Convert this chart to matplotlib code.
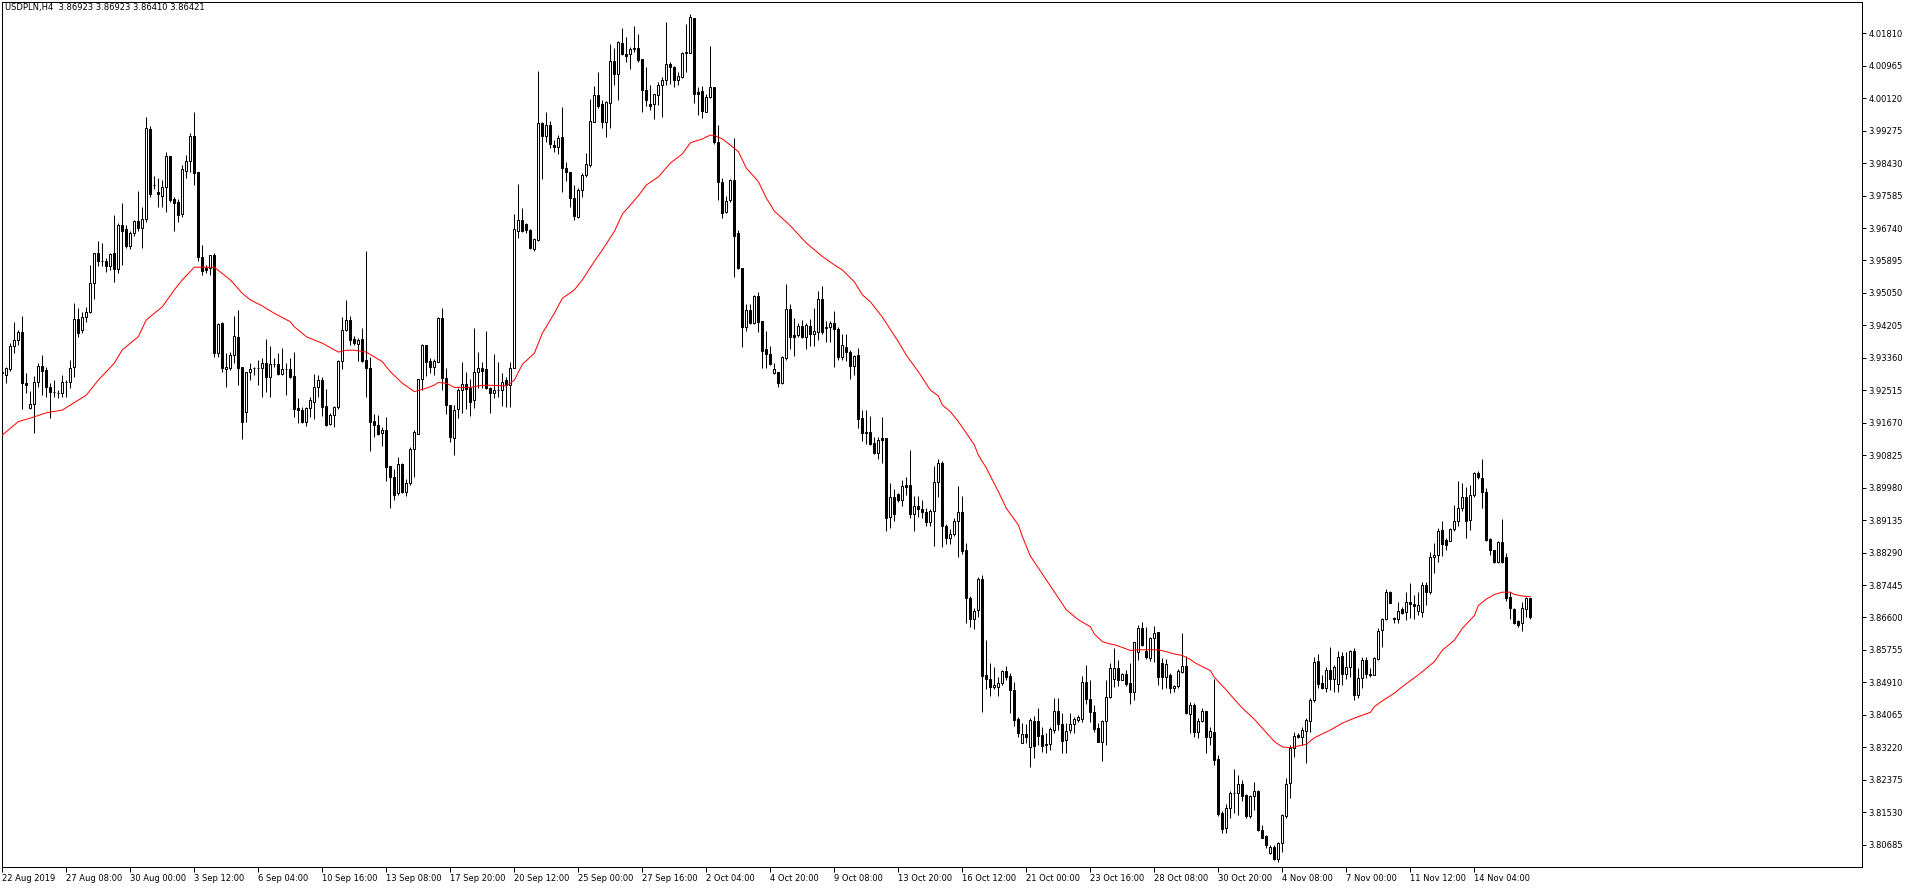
import matplotlib
matplotlib.use("Agg")
import matplotlib.pyplot as plt
import numpy as np

# ---------------- data (USDPLN, H4) ----------------
opens = [
 3.9296,3.9291,3.9308,3.9368,3.9383,3.9403,3.9270,3.9205,3.9215,3.9274,
 3.9315,3.9305,3.9261,3.9246,3.9244,3.9244,3.9273,3.9274,3.9311,3.9436,
 3.9409,3.9443,3.9456,3.9530,3.9608,3.9589,3.9587,3.9576,3.9608,3.9567,
 3.9681,3.9671,3.9628,3.9660,3.9693,3.9673,3.9697,3.9932,3.9785,3.9768,
 3.9758,3.9782,3.9862,3.9750,3.9742,3.9710,3.9823,3.9849,3.9914,3.9821,
 3.9598,3.9571,3.9569,3.9604,3.9348,3.9428,3.9306,3.9309,3.9344,3.9390,
 3.9311,3.9196,3.9298,3.9309,3.9310,3.9309,3.9322,3.9287,3.9320,3.9320,
 3.9294,3.9306,3.9306,3.9289,3.9205,3.9199,3.9170,3.9205,3.9222,3.9259,
 3.9278,3.9211,3.9164,3.9187,3.9207,3.9328,3.9409,3.9435,3.9384,3.9372,
 3.9384,3.9330,3.9309,3.9172,3.9161,3.9141,3.9148,3.9055,3.9027,3.8983,
 3.9060,3.8988,3.9011,3.9098,3.9139,3.9280,3.9370,3.9328,3.9311,3.9326,
 3.9441,3.9283,3.9213,3.9127,3.9202,3.9252,3.9268,3.9257,3.9226,3.9300,
 3.9309,3.9306,3.9257,3.9245,3.9252,3.9252,3.9278,3.9265,3.9309,3.9666,
 3.9695,3.9685,3.9669,3.9619,3.9643,3.9947,3.9914,3.9942,3.9890,3.9886,
 3.9910,3.9830,3.9819,3.9753,3.9704,3.9773,3.9812,3.9838,3.9951,4.0020,
 3.9996,3.9949,3.9999,4.0109,4.0074,4.0155,4.0127,4.0126,4.0140,4.0144,
 4.0114,4.0033,3.9996,3.9996,4.0020,4.0046,4.0059,4.0100,4.0094,4.0059,
 4.0068,4.0129,4.0131,4.0222,4.0027,4.0032,3.9977,4.0014,4.0040,3.9897,
 3.9793,3.9715,3.9747,3.9799,3.9660,3.9569,3.9417,3.9461,3.9426,3.9497,
 3.9432,3.9359,3.9346,3.9296,3.9298,3.9270,3.9335,3.9462,3.9396,3.9396,
 3.9419,3.9389,3.9419,3.9397,3.9404,3.9488,3.9415,3.9416,3.9428,3.9410,
 3.9337,3.9363,3.9352,3.9316,3.9343,3.9179,3.9143,3.9142,3.9114,3.9089,
 3.9127,3.9127,3.8921,3.8973,3.8981,3.8966,3.9005,3.9005,3.8929,3.8950,
 3.8943,3.8935,3.8908,3.8937,3.9013,3.9063,3.8899,3.8868,3.8877,3.8911,
 3.8934,3.8836,3.8710,3.8655,3.8680,3.8759,3.8510,3.8499,3.8478,3.8480,
 3.8489,3.8521,3.8508,3.8471,3.8395,3.8334,3.8357,3.8324,3.8391,3.8391,
 3.8354,3.8331,3.8330,3.8367,3.8417,3.8383,3.8340,3.8366,3.8383,3.8393,
 3.8395,3.8491,3.8448,3.8415,3.8372,3.8337,3.8391,3.8452,3.8499,3.8528,
 3.8497,3.8513,3.8490,3.8467,3.8569,3.8632,3.8573,3.8554,3.8606,3.8623,
 3.8541,3.8506,3.8510,3.8476,3.8482,3.8519,3.8534,3.8409,3.8432,3.8363,
 3.8391,3.8417,3.8350,3.8363,3.8292,3.8150,3.8111,3.8163,3.8202,3.8202,
 3.8226,3.8198,3.8142,3.8194,3.8208,3.8107,3.8090,3.8046,3.8063,3.8031,
 3.8074,3.8142,3.8228,3.8321,3.8354,3.8350,3.8365,3.8391,3.8444,3.8547,
 3.8489,3.8476,3.8523,3.8500,3.8487,3.8560,3.8512,3.8530,3.8573,3.8458,
 3.8502,3.8549,3.8513,3.8510,3.8552,3.8628,3.8655,3.8727,3.8658,3.8655,
 3.8681,3.8675,3.8701,3.8694,3.8678,3.8675,3.8745,3.8726,3.8817,3.8823,
 3.8888,3.8862,3.8860,3.8890,3.8910,3.8944,3.8975,3.8914,3.8979,3.9035,
 3.9022,3.8988,3.8864,3.8836,3.8804,3.8856,3.8817,3.8714,3.8682,3.8651,
 3.8645,3.8682,3.8712]

highs = [
 3.9305,3.9313,3.9375,3.9430,3.9409,3.9445,3.9296,3.9250,3.9289,3.9322,
 3.9344,3.9313,3.9270,3.9278,3.9252,3.9292,3.9278,3.9331,3.9480,3.9467,
 3.9456,3.9469,3.9578,3.9608,3.9639,3.9634,3.9595,3.9610,3.9708,3.9686,
 3.9738,3.9682,3.9665,3.9695,3.9771,3.9730,3.9964,3.9940,3.9810,3.9803,
 3.9799,3.9873,3.9862,3.9754,3.9749,3.9838,3.9864,3.9922,3.9975,3.9821,
 3.9630,3.9578,3.9604,3.9610,3.9428,3.9430,3.9348,3.9352,3.9445,3.9461,
 3.9313,3.9300,3.9322,3.9313,3.9330,3.9335,3.9384,3.9367,3.9335,3.9348,
 3.9361,3.9322,3.9335,3.9352,3.9231,3.9209,3.9209,3.9233,3.9294,3.9291,
 3.9285,3.9254,3.9192,3.9211,3.9330,3.9443,3.9487,3.9445,3.9393,3.9387,
 3.9413,3.9614,3.9337,3.9190,3.9187,3.9157,3.9181,3.9055,3.9046,3.9079,
 3.9061,3.9020,3.9103,3.9148,3.9280,3.9372,3.9370,3.9335,3.9332,3.9443,
 3.9465,3.9309,3.9213,3.9213,3.9257,3.9324,3.9298,3.9280,3.9415,3.9352,
 3.9326,3.9407,3.9259,3.9346,3.9326,3.9296,3.9285,3.9326,3.9711,3.9789,
 3.9727,3.9686,3.9672,3.9647,4.0083,3.9951,3.9976,3.9953,3.9903,3.9916,
 3.9990,3.9847,3.9821,3.9786,3.9777,3.9817,3.9869,4.0010,4.0045,4.0081,
 4.0007,4.0005,4.0152,4.0142,4.0161,4.0194,4.0171,4.0146,4.0201,4.0179,
 4.0114,4.0094,4.0046,4.0022,4.0055,4.0066,4.0210,4.0105,4.0097,4.0081,
 4.0133,4.0205,4.0231,4.0222,4.0042,4.0044,4.0022,4.0148,4.0040,3.9941,
 3.9803,3.9758,3.9802,3.9908,3.9669,3.9569,3.9476,3.9476,3.9500,3.9508,
 3.9432,3.9406,3.9367,3.9322,3.9300,3.9341,3.9528,3.9476,3.9439,3.9428,
 3.9435,3.9426,3.9436,3.9465,3.9509,3.9523,3.9433,3.9432,3.9458,3.9417,
 3.9398,3.9398,3.9357,3.9344,3.9361,3.9200,3.9200,3.9185,3.9129,3.9131,
 3.9183,3.9127,3.9009,3.8995,3.8985,3.9018,3.9027,3.9096,3.8976,3.8976,
 3.8966,3.8946,3.8942,3.9054,3.9073,3.9068,3.8904,3.8890,3.8918,3.9002,
 3.8976,3.8853,3.8716,3.8684,3.8765,3.8771,3.8602,3.8541,3.8532,3.8504,
 3.8524,3.8534,3.8515,3.8493,3.8402,3.8385,3.8383,3.8398,3.8404,3.8424,
 3.8376,3.8359,3.8376,3.8450,3.8450,3.8412,3.8386,3.8412,3.8402,3.8406,
 3.8508,3.8536,3.8497,3.8431,3.8385,3.8393,3.8497,3.8541,3.8580,3.8550,
 3.8515,3.8523,3.8541,3.8597,3.8641,3.8648,3.8636,3.8610,3.8638,3.8623,
 3.8554,3.8551,3.8516,3.8484,3.8525,3.8619,3.8560,3.8441,3.8437,3.8398,
 3.8424,3.8417,3.8376,3.8500,3.8302,3.8155,3.8174,3.8208,3.8266,3.8250,
 3.8237,3.8200,3.8198,3.8233,3.8211,3.8120,3.8094,3.8068,3.8068,3.8076,
 3.8148,3.8243,3.8328,3.8363,3.8358,3.8376,3.8398,3.8450,3.8558,3.8564,
 3.8510,3.8532,3.8584,3.8536,3.8573,3.8571,3.8571,3.8575,3.8580,3.8528,
 3.8558,3.8558,3.8528,3.8558,3.8632,3.8658,3.8734,3.8729,3.8660,3.8701,
 3.8688,3.8727,3.8749,3.8719,3.8727,3.8752,3.8753,3.8831,3.8853,3.8894,
 3.8911,3.8866,3.8894,3.8953,3.9015,3.9009,3.9001,3.9005,3.9040,3.9041,
 3.9073,3.8996,3.8866,3.8836,3.8858,3.8916,3.8827,3.8727,3.8684,3.8654,
 3.8701,3.8714,3.8712]

lows = [
 3.9292,3.9270,3.9303,3.9348,3.9370,3.9202,3.9244,3.9204,3.9140,3.9259,
 3.9239,3.9235,3.9179,3.9235,3.9231,3.9235,3.9233,3.9257,3.9285,3.9390,
 3.9400,3.9430,3.9452,3.9488,3.9574,3.9574,3.9560,3.9565,3.9534,3.9556,
 3.9578,3.9621,3.9620,3.9652,3.9665,3.9623,3.9691,3.9754,3.9775,3.9728,
 3.9730,3.9717,3.9743,3.9665,3.9691,3.9704,3.9803,3.9821,3.9786,3.9587,
 3.9552,3.9556,3.9552,3.9338,3.9339,3.9300,3.9259,3.9305,3.9322,3.9266,
 3.9124,3.9170,3.9278,3.9292,3.9265,3.9233,3.9248,3.9235,3.9313,3.9291,
 3.9291,3.9240,3.9283,3.9181,3.9167,3.9166,3.9159,3.9181,3.9176,3.9235,
 3.9185,3.9159,3.9161,3.9157,3.9202,3.9306,3.9407,3.9370,3.9370,3.9329,
 3.9326,3.9235,3.9094,3.9131,3.9135,3.9107,3.9016,3.8944,3.8966,3.8979,
 3.8983,3.8976,3.9005,3.9025,3.9139,3.9252,3.9289,3.9296,3.9291,3.9324,
 3.9252,3.9190,3.9118,3.9083,3.9179,3.9192,3.9202,3.9185,3.9205,3.9257,
 3.9257,3.9254,3.9192,3.9231,3.9233,3.9211,3.9209,3.9209,3.9309,3.9647,
 3.9663,3.9660,3.9620,3.9613,3.9639,3.9801,3.9899,3.9882,3.9871,3.9866,
 3.9769,3.9797,3.9730,3.9695,3.9701,3.9756,3.9808,3.9834,3.9949,3.9986,
 3.9935,3.9912,3.9934,4.0046,4.0007,4.0125,4.0107,4.0088,4.0133,4.0107,
 3.9977,3.9993,3.9981,3.9958,3.9994,3.9964,4.0046,4.0048,4.0040,4.0046,
 4.0064,4.0081,4.0129,3.9999,3.9967,3.9961,3.9975,4.0012,3.9892,3.9747,
 3.9701,3.9712,3.9743,3.9547,3.9567,3.9365,3.9406,3.9423,3.9423,3.9404,
 3.9309,3.9309,3.9317,3.9294,3.9259,3.9268,3.9330,3.9359,3.9342,3.9391,
 3.9387,3.9359,3.9367,3.9368,3.9383,3.9398,3.9378,3.9378,3.9313,3.9330,
 3.9330,3.9329,3.9281,3.9291,3.9153,3.9120,3.9112,3.9109,3.9085,3.9073,
 3.9063,3.8884,3.8894,3.8912,3.8962,3.8951,3.8979,3.8918,3.8884,3.8921,
 3.8918,3.8899,3.8897,3.8846,3.8975,3.8844,3.8851,3.8851,3.8873,3.8818,
 3.8825,3.8645,3.8636,3.8629,3.8662,3.8415,3.8473,3.8456,3.8473,3.8456,
 3.8484,3.8497,3.8412,3.8378,3.8350,3.8333,3.8333,3.8270,3.8293,3.8328,
 3.8311,3.8308,3.8315,3.8360,3.8366,3.8306,3.8306,3.8359,3.8360,3.8388,
 3.8389,3.8435,3.8389,3.8363,3.8336,3.8287,3.8328,3.8450,3.8480,3.8482,
 3.8496,3.8482,3.8435,3.8445,3.8550,3.8586,3.8551,3.8548,3.8543,3.8484,
 3.8473,3.8476,3.8464,3.8467,3.8476,3.8515,3.8409,3.8360,3.8350,3.8347,
 3.8389,3.8306,3.8328,3.8276,3.8142,3.8098,3.8098,3.8139,3.8150,3.8146,
 3.8181,3.8139,3.8137,3.8159,3.8104,3.8085,3.8061,3.8043,3.8029,3.8024,
 3.8049,3.8139,3.8189,3.8298,3.8345,3.8328,3.8280,3.8363,3.8441,3.8476,
 3.8474,3.8465,3.8471,3.8465,3.8465,3.8484,3.8500,3.8506,3.8445,3.8451,
 3.8476,3.8502,3.8506,3.8509,3.8549,3.8584,3.8654,3.8697,3.8645,3.8645,
 3.8668,3.8654,3.8658,3.8656,3.8667,3.8662,3.8693,3.8720,3.8775,3.8804,
 3.8821,3.8836,3.8858,3.8884,3.8899,3.8936,3.8866,3.8888,3.8975,3.9021,
 3.8946,3.8859,3.8823,3.8801,3.8801,3.8801,3.8703,3.8656,3.8642,3.8636,
 3.8625,3.8660,3.8656]

closes = [
 3.9299,3.9309,3.9368,3.9383,3.9403,3.9270,3.9266,3.9215,3.9272,3.9315,
 3.9303,3.9259,3.9246,3.9247,3.9245,3.9272,3.9274,3.9309,3.9436,3.9400,
 3.9443,3.9455,3.9530,3.9608,3.9587,3.9587,3.9574,3.9606,3.9567,3.9681,
 3.9667,3.9628,3.9660,3.9693,3.9675,3.9697,3.9934,3.9763,3.9786,3.9762,
 3.9782,3.9862,3.9747,3.9740,3.9708,3.9828,3.9849,3.9914,3.9817,3.9598,
 3.9563,3.9565,3.9604,3.9348,3.9424,3.9309,3.9313,3.9344,3.9393,3.9309,
 3.9170,3.9298,3.9306,3.9310,3.9309,3.9322,3.9287,3.9320,3.9321,3.9294,
 3.9306,3.9307,3.9287,3.9204,3.9199,3.9170,3.9205,3.9226,3.9259,3.9278,
 3.9209,3.9161,3.9187,3.9207,3.9328,3.9409,3.9435,3.9383,3.9374,3.9383,
 3.9329,3.9309,3.9170,3.9160,3.9138,3.9148,3.9053,3.9027,3.8979,3.9060,
 3.8988,3.9011,3.9098,3.9142,3.9280,3.9370,3.9326,3.9311,3.9328,3.9441,
 3.9283,3.9213,3.9131,3.9200,3.9252,3.9268,3.9254,3.9220,3.9300,3.9309,
 3.9303,3.9257,3.9245,3.9252,3.9253,3.9274,3.9265,3.9309,3.9671,3.9695,
 3.9666,3.9669,3.9621,3.9645,3.9947,3.9914,3.9942,3.9892,3.9886,3.9908,
 3.9830,3.9819,3.9753,3.9706,3.9773,3.9812,3.9840,3.9953,4.0020,3.9993,
 3.9949,4.0003,4.0109,4.0074,4.0158,4.0126,4.0123,4.0139,4.0144,4.0112,
 4.0033,4.0007,3.9993,4.0022,4.0046,4.0059,4.0100,4.0092,4.0059,4.0070,
 4.0129,4.0133,4.0224,4.0022,4.0024,3.9979,4.0014,4.0040,3.9897,3.9793,
 3.9712,3.9745,3.9799,3.9654,3.9569,3.9417,3.9461,3.9426,3.9497,3.9430,
 3.9355,3.9345,3.9319,3.9306,3.9270,3.9337,3.9462,3.9389,3.9391,3.9419,
 3.9389,3.9422,3.9397,3.9406,3.9488,3.9404,3.9416,3.9428,3.9410,3.9337,
 3.9370,3.9350,3.9316,3.9341,3.9177,3.9141,3.9141,3.9111,3.9087,3.9121,
 3.9123,3.8920,3.8973,3.8929,3.8966,3.9002,3.9001,3.8929,3.8950,3.8942,
 3.8934,3.8908,3.8938,3.9013,3.9063,3.8899,3.8868,3.8877,3.8911,3.8934,
 3.8834,3.8710,3.8655,3.8678,3.8759,3.8508,3.8499,3.8478,3.8484,3.8489,
 3.8521,3.8506,3.8470,3.8392,3.8359,3.8357,3.8348,3.8393,3.8326,3.8352,
 3.8326,3.8327,3.8370,3.8417,3.8383,3.8339,3.8365,3.8383,3.8396,3.8400,
 3.8493,3.8447,3.8415,3.8369,3.8337,3.8391,3.8452,3.8528,3.8528,3.8497,
 3.8513,3.8487,3.8467,3.8595,3.8632,3.8589,3.8556,3.8606,3.8619,3.8506,
 3.8506,3.8539,3.8476,3.8482,3.8521,3.8534,3.8411,3.8432,3.8363,3.8391,
 3.8417,3.8350,3.8365,3.8289,3.8148,3.8109,3.8163,3.8202,3.8203,3.8226,
 3.8196,3.8142,3.8194,3.8208,3.8107,3.8087,3.8068,3.8063,3.8031,3.8074,
 3.8146,3.8226,3.8321,3.8352,3.8350,3.8367,3.8393,3.8444,3.8543,3.8487,
 3.8476,3.8523,3.8500,3.8532,3.8558,3.8512,3.8532,3.8573,3.8458,3.8502,
 3.8549,3.8512,3.8509,3.8554,3.8625,3.8655,3.8727,3.8699,3.8655,3.8678,
 3.8673,3.8701,3.8695,3.8691,3.8693,3.8745,3.8727,3.8818,3.8823,3.8885,
 3.8851,3.8849,3.8890,3.8910,3.8946,3.8973,3.8910,3.8979,3.9035,3.9025,
 3.8986,3.8862,3.8836,3.8804,3.8856,3.8804,3.8710,3.8684,3.8645,3.8641,
 3.8684,3.8712,3.8660]

# moving average (red line), read at selected bars
ma_bars = [0,4,7,11,15,17,21,24,28,30,34,36,40,43,45,48,53,57,60,62,65,68,72,73,76,80,84,86,88,91,
           95,97,100,103,106,108,109,111,113,117,119,121,126,127,128,130,133,135,138,140,143,145,148,150,
           153,155,157,159,161,164,167,170,172,175,177,178,180,182,184,186,189,191,193,197,201,205,208,
           210,213,215,217,220,222,224,226,229,232,234,235,237,239,241,243,244,246,249,251,254,255,257,
           266,269,272,273,275,277,278,280,282,284,289,291,293,295,297,298,300,302,303,306,308,310,313,
           316,318,320,322,323,326,328,332,335,338,339,342,343,345,348,350,353,355,358,360,363,365,368,
           369,371,373,375,377,378,380,382]
ma_vals = [3.9135,3.9170,3.9179,3.9193,3.9200,3.9213,3.9239,3.9278,3.9322,3.9357,3.9391,3.9435,3.9469,
           3.9513,3.9539,3.9572,3.9572,3.9539,3.9504,3.9487,3.9471,3.9452,3.9430,3.9417,3.9391,3.9374,
           3.9351,3.9356,3.9356,3.9351,3.9326,3.9300,3.9270,3.9248,3.9257,3.9265,3.9272,3.9270,3.9259,
           3.9259,3.9263,3.9265,3.9263,3.9270,3.9278,3.9319,3.9348,3.9400,3.9452,3.9491,3.9513,3.9539,
           3.9587,3.9617,3.9665,3.9710,3.9734,3.9758,3.9786,3.9807,3.9843,3.9867,3.9896,3.9906,3.9916,
           3.9915,3.9906,3.9890,3.9873,3.9830,3.9795,3.9752,3.9718,3.9680,3.9635,3.9600,3.9578,
           3.9565,3.9534,3.9500,3.9482,3.9442,3.9410,3.9378,3.9343,3.9300,3.9252,3.9237,3.9213,3.9196,
           3.9170,3.9140,3.9109,3.9083,3.9049,3.8988,3.8944,3.8901,3.8871,3.8820,
           3.8680,3.8654,3.8636,3.8617,3.8597,3.8591,3.8589,3.8582,3.8574,3.8576,3.8576,3.8571,3.8565,
           3.8561,3.8551,3.8543,3.8532,3.8522,3.8504,3.8471,3.8447,3.8424,3.8395,
           3.8360,3.8337,3.8323,3.8321,3.8323,3.8330,3.8347,3.8367,3.8385,3.8398,3.8402,3.8413,3.8428,
           3.8443,3.8463,3.8480,3.8503,3.8519,3.8545,3.8575,3.8601,3.8632,3.8665,
           3.8691,3.8708,3.8720,3.8726,3.8726,3.8720,3.8716,3.8714]

x_labels = ["22 Aug 2019", "27 Aug 08:00", "30 Aug 00:00", "3 Sep 12:00", "6 Sep 04:00",
            "10 Sep 16:00", "13 Sep 08:00", "17 Sep 20:00", "20 Sep 12:00", "25 Sep 00:00",
            "27 Sep 16:00", "2 Oct 04:00", "4 Oct 20:00", "9 Oct 08:00", "13 Oct 20:00",
            "16 Oct 12:00", "21 Oct 00:00", "23 Oct 16:00", "28 Oct 08:00", "30 Oct 20:00",
            "4 Nov 08:00", "7 Nov 00:00", "11 Nov 12:00", "14 Nov 04:00"]
bars_per_label = 16

y_ticks = [4.01810, 4.00965, 4.00120, 3.99275, 3.98430, 3.97585, 3.96740, 3.95895, 3.95050,
           3.94205, 3.93360, 3.92515, 3.91670, 3.90825, 3.89980, 3.89135, 3.88290, 3.87445,
           3.86600, 3.85755, 3.84910, 3.84065, 3.83220, 3.82375, 3.81530, 3.80685]

symbol = "USDPLN,H4"
header_ohlc = ["3.86923", "3.86923", "3.86410", "3.86421"]

assert len(opens) == len(highs) == len(lows) == len(closes)
assert len(ma_bars) == len(ma_vals)

# ---------------- drawing ----------------
W, H = 1916, 888
fig = plt.figure(figsize=(W / 100, H / 100), dpi=100)
fig.patch.set_facecolor("white")
ax = fig.add_axes([2 / W, 21 / H, 1860 / W, 865 / H])
ax.set_facecolor("white")

o = np.array(opens); h = np.array(highs); l = np.array(lows); c = np.array(closes)
x = np.arange(len(o))
px = 0.72  # one pixel in points

ax.vlines(x, l, h, colors="black", linewidth=px, zorder=2)
bull = c >= o
bottoms = np.minimum(o, c)
heights = np.abs(c - o)
ax.bar(x[bull], heights[bull], bottom=bottoms[bull], width=0.5,
       facecolor="white", edgecolor="black", linewidth=px, zorder=3)
ax.bar(x[~bull], heights[~bull], bottom=bottoms[~bull], width=0.5,
       facecolor="black", edgecolor="black", linewidth=px, zorder=3)

ax.plot(ma_bars, ma_vals, color="#ff0000", linewidth=px, zorder=4, solid_joinstyle="round")

ax.set_xlim(-0.075, 464.9)
ax.set_ylim(3.80104, 4.02625)

# x axis
ax.set_xticks([i * bars_per_label for i in range(len(x_labels))])
ax.set_xticklabels(x_labels, ha="left")
ax.tick_params(axis="x", direction="out", length=3.6, width=px, pad=1.2,
               labelsize=6, colors="black")

# y axis on the right
ax.yaxis.tick_right()
ax.set_yticks(y_ticks)
ax.set_yticklabels([f"{v:.5f}" for v in y_ticks])
ax.tick_params(axis="y", direction="out", length=3, width=px, pad=1.5,
               labelsize=6, colors="black")

for s in ax.spines.values():
    s.set_linewidth(px)
    s.set_color("black")

fig.text(5 / W, 1 - 3 / H, symbol + "  " + " ".join(header_ohlc),
         fontsize=6, va="top", ha="left", color="black")

fig.savefig("out.png", dpi=100, facecolor="white")
